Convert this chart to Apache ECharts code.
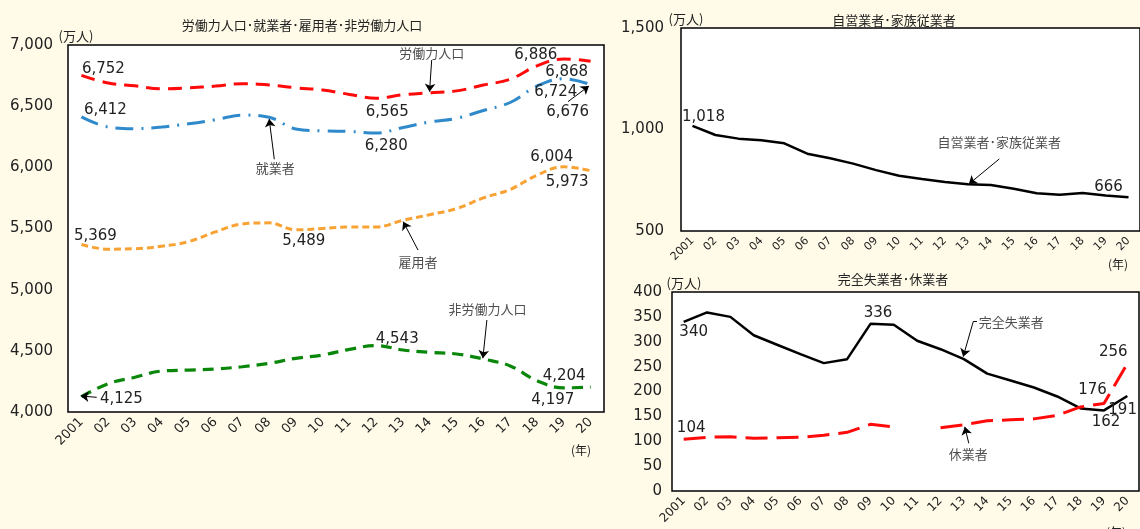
<!DOCTYPE html>
<html>
<head>
<meta charset="utf-8">
<script src="https://cdn.jsdelivr.net/npm/echarts@6.0.0/dist/echarts.min.js"></script>
<style>
  html, body { margin: 0; padding: 0; background: #fffbe8; }
  #chart { width: 1140px; height: 529px; }
</style>
</head>
<body>
<div id="chart"></div>
<script>
// 年次（2001〜2020年）
const years = ['2001','02','03','04','05','06','07','08','09','10','11','12','13','14','15','16','17','18','19','20'];

// 労働力人口・就業者・雇用者・非労働力人口（万人）
const laborForce = [6752,6689,6666,6642,6650,6664,6684,6674,6650,6632,6596,6565,6593,6609,6625,6673,6720,6830,6886,6868];
const employed   = [6412,6330,6316,6329,6356,6389,6427,6409,6314,6298,6293,6280,6326,6371,6401,6465,6530,6664,6724,6676];
const employees  = [5369,5331,5335,5355,5393,5472,5537,5546,5489,5500,5512,5513,5567,5613,5663,5750,5819,5936,6004,5973];
const notInLabor = [4125,4232,4284,4335,4343,4352,4370,4398,4439,4466,4512,4543,4507,4488,4474,4433,4376,4256,4197,4204];

// 自営業者・家族従業者（万人）
const selfEmployed = [1018,973,955,947,932,881,858,832,800,772,756,741,730,727,708,686,679,687,675,666];

// 完全失業者・休業者（万人）　2011年の休業者は欠測
const unemployed = [340,359,350,313,294,275,257,265,336,334,302,285,265,236,222,208,190,166,162,191];
const onLeave    = [104,108,109,106,107,108,112,118,134,129,null,127,133,141,143,145,152,169,176,256];

// 軸目盛
const leftTicks   = { min: 4000, max: 7000, step: 500 };
const selfTicks   = { min: 500,  max: 1500, step: 500 };
const unempTicks  = { min: 0,    max: 400,  step: 50 };

// 数値ラベルを付ける年（インデックス）と、点からのずらし量
const laborLabelPos      = { 0: [22, -6], 11: [11, 13.5], 18: [-28, -4], 19: [-24, 10.5] };
const employedLabelPos   = { 0: [24, -7], 11: [10, 13.5], 18: [-8, 13], 19: [-23, 27] };
const employeesLabelPos  = { 0: [14, -8], 8: [8, 11], 18: [-12, -10], 19: [-23.5, 11] };
const notInLaborLabelPos = { 0: [40, 2], 11: [21, -6.6], 18: [-11, 12], 19: [-26.5, -10.5] };
const selfLabelPos       = { 0: [11, -8.5], 19: [-20, -10.6] };
const unempLabelPos      = { 0: [10, 10], 8: [7.6, -11], 18: [2, 12], 19: [-4.7, 14] };
const leaveLabelPos      = { 0: [7.5, -11], 18: [-11.4, -13.4], 19: [-14, -12] };

// 系列名の注記（データ座標：x は年インデックス）
const leftNotes = [
  { name: '労働力人口',   at: [13.07, 6937], arrow: [[13.07, 6877], [12.99, 6618]] },
  { name: '就業者',       at: [7.235, 5997], arrow: [[7.198, 6066], [7.007, 6395]] },
  { name: '雇用者',       at: [12.56, 5229], arrow: [[12.56, 5324], [12.007, 5556]] },
  { name: '非労働力人口', at: [15.15, 4839], arrow: [[15.13, 4752], [14.98, 4439]] }
];
const leftValueArrows = [
  [[0.571, 4120], [-0.026, 4131]],
  [[18.157, 6537], [18.94, 6665]]
];
const selfNotes = [
  { name: '自営業者･家族従業者', at: [13.37, 936], arrow: [[13.37, 855], [12.04, 731]] }
];
const unempNotes = [
  { name: '完全失業者', at: [14.03, 340], arrow: [[12.40, 340.3], [11.97, 270]] },
  { name: '休業者',     at: [12.19, 74],  arrow: [[12.21, 96], [12.04, 129]] }
];
// 「完全失業者」の引き出し線の横棒
const unempLeader = [[[12.56, 340.3], [12.40, 340.3]]];

const NUM_FONT = "'DejaVu Sans', 'Noto Sans CJK JP', sans-serif";
const JP_FONT = "'Noto Sans CJK JP', 'DejaVu Sans', sans-serif";
const TEXT = '#222';

const fmt = v => String(v).replace(/\B(?=(\d{3})+(?!\d))/g, ',');

function withLabels(values, pos) {
  return values.map((v, i) => pos[i]
    ? { value: v, label: { show: true, offset: pos[i] } }
    : v);
}

function lineSeries(name, values, pos, axis, style, smooth) {
  return {
    name, type: 'line', xAxisIndex: axis * 2, yAxisIndex: axis,
    data: withLabels(values, pos),
    smooth: smooth, showSymbol: true, symbol: 'circle', symbolSize: 0,
    connectNulls: false,
    lineStyle: style,
    itemStyle: { color: style.color },
    label: {
      show: false, position: 'inside', color: TEXT,
      fontFamily: NUM_FONT, fontSize: 15,
      formatter: p => fmt(p.value)
    },
    emphasis: { disabled: true },
    z: 3
  };
}

function noteSeries(notes, axis) {
  return {
    type: 'scatter', xAxisIndex: axis * 2 + 1, yAxisIndex: axis,
    symbolSize: 0, silent: true,
    data: notes.map(n => ({ name: n.name, value: n.at })),
    label: {
      show: true, position: 'inside', formatter: '{b}',
      color: TEXT, fontFamily: JP_FONT, fontSize: 13
    },
    z: 4
  };
}

function arrowSeries(paths, axis, withHead) {
  return {
    type: 'lines', coordinateSystem: 'cartesian2d',
    xAxisIndex: axis * 2 + 1, yAxisIndex: axis,
    silent: true,
    symbol: withHead === false ? ['none', 'none'] : ['none', 'arrow'], symbolSize: 8,
    lineStyle: { color: '#000', width: 1, opacity: 1, curveness: 0 },
    data: paths.map(p => ({ coords: p })),
    z: 4
  };
}

function categoryAxis(grid, fontSize) {
  return {
    type: 'category', gridIndex: grid, data: years, boundaryGap: true,
    axisLine: { show: false }, axisTick: { show: false },
    axisLabel: { interval: 0, rotate: 45, fontSize: fontSize, color: TEXT, fontFamily: NUM_FONT, margin: 8 }
  };
}
function hiddenXAxis(grid) {
  return { type: 'value', gridIndex: grid, min: -0.5, max: 19.5, show: false };
}
function valueAxis(grid, t, margin) {
  return {
    type: 'value', gridIndex: grid, min: t.min, max: t.max, interval: t.step,
    axisLine: { show: false }, axisTick: { show: false }, splitLine: { show: false },
    axisLabel: { fontSize: 15, color: TEXT, fontFamily: NUM_FONT, margin: margin, formatter: v => fmt(v) }
  };
}

function txt(x, y, text, size, font) {
  return {
    type: 'text', x, y, silent: true,
    style: { text, fill: TEXT, font: size + 'px ' + font, textAlign: 'center', textVerticalAlign: 'middle', align: 'center', verticalAlign: 'middle' }
  };
}

const chart = echarts.init(document.getElementById('chart'), null, { renderer: 'canvas' });

const gridStyle = { show: true, backgroundColor: '#fff', borderColor: '#000', borderWidth: 1.5, containLabel: false };

chart.setOption({
  animation: false,
  backgroundColor: '#fffbe8',
  grid: [
    Object.assign({ left: 68, top: 45, width: 536, height: 367 }, gridStyle),
    Object.assign({ left: 681, top: 28, width: 461, height: 203 }, gridStyle),
    Object.assign({ left: 672, top: 292, width: 467, height: 199 }, gridStyle)
  ],
  xAxis: [
    categoryAxis(0, 13), hiddenXAxis(0),
    categoryAxis(1, 11), hiddenXAxis(1),
    categoryAxis(2, 12), hiddenXAxis(2)
  ],
  yAxis: [
    valueAxis(0, leftTicks, 15),
    valueAxis(1, selfTicks, 17),
    valueAxis(2, unempTicks, 10)
  ],
  graphic: [
    txt(302, 25, '労働力人口･就業者･雇用者･非労働力人口', 13, JP_FONT),
    txt(894, 20, '自営業者･家族従業者', 13, JP_FONT),
    txt(893, 279, '完全失業者･休業者', 13, JP_FONT),
    txt(76, 36, '(万人)', 13, JP_FONT),
    txt(686, 19, '(万人)', 13, JP_FONT),
    txt(684, 283, '(万人)', 13, JP_FONT),
    txt(581, 450, '(年)', 12, JP_FONT),
    txt(1118, 264, '(年)', 12, JP_FONT),
    txt(1116, 532, '(年)', 12, JP_FONT)
  ],
  series: [
    lineSeries('労働力人口', laborForce, laborLabelPos, 0, { color: '#ff0a0a', width: 3, type: [14, 8] }, 0.4),
    lineSeries('就業者', employed, employedLabelPos, 0, { color: '#2f8acb', width: 3, type: [18, 8, 2, 8] }, 0.4),
    lineSeries('雇用者', employees, employeesLabelPos, 0, { color: '#f8a234', width: 3, type: [7, 4] }, 0.4),
    lineSeries('非労働力人口', notInLabor, notInLaborLabelPos, 0, { color: '#0a870a', width: 3.2, type: [11, 7] }, 0.4),
    noteSeries(leftNotes, 0),
    arrowSeries(leftNotes.map(n => n.arrow).concat(leftValueArrows), 0),

    lineSeries('自営業者･家族従業者', selfEmployed, selfLabelPos, 1, { color: '#000', width: 2.5, type: 'solid' }, 0),
    noteSeries(selfNotes, 1),
    arrowSeries(selfNotes.map(n => n.arrow), 1),

    lineSeries('完全失業者', unemployed, unempLabelPos, 2, { color: '#000', width: 2.5, type: 'solid' }, 0),
    lineSeries('休業者', onLeave, leaveLabelPos, 2, { color: '#ff0a0a', width: 3, type: [22, 9] }, 0),
    noteSeries(unempNotes, 2),
    arrowSeries(unempNotes.map(n => n.arrow), 2),
    arrowSeries(unempLeader, 2, false)
  ]
});
</script>
</body>
</html>
